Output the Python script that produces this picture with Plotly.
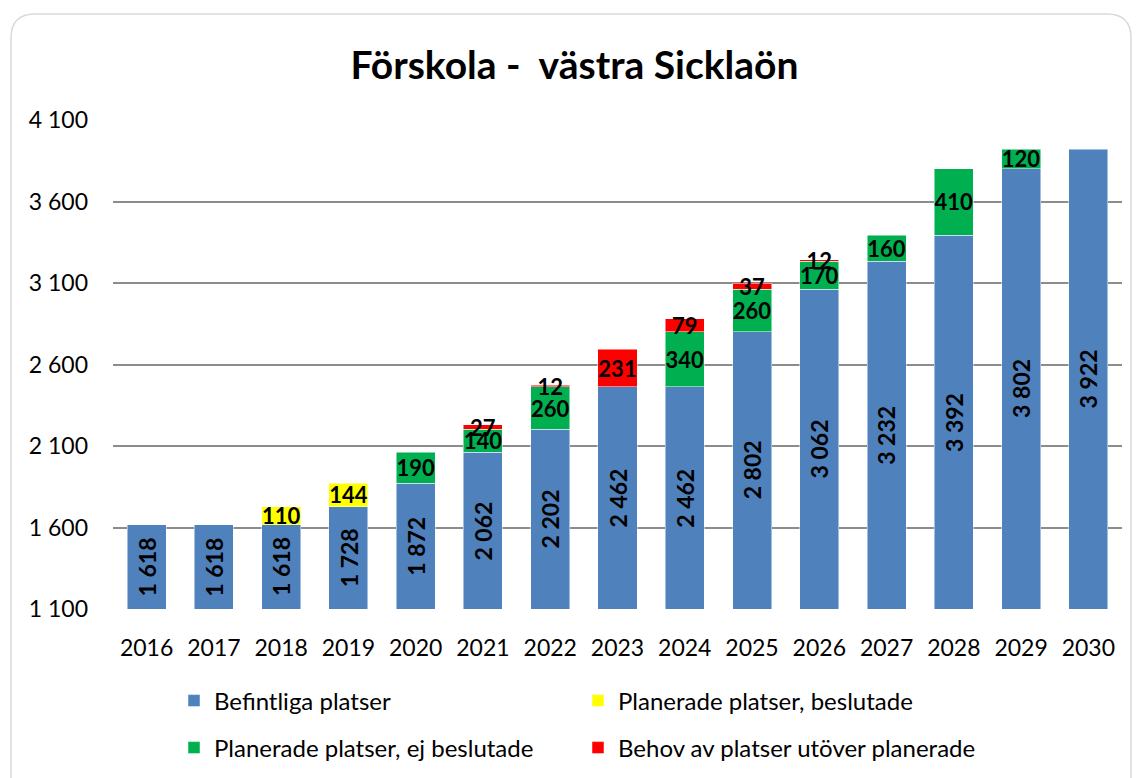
import plotly.graph_objects as go

years = [str(y) for y in range(2016, 2031)]
befintliga = [1618, 1618, 1618, 1728, 1872, 2062, 2202, 2462, 2462, 2802, 3062, 3232, 3392, 3802, 3922]
beslutade = [None, None, 110, 144, None, None, None, None, None, None, None, None, None, None, None]
ej_beslutade = [None, None, None, None, 190, 140, 260, None, 340, 260, 170, 160, 410, 120, None]
behov = [None, None, None, None, None, 27, 12, 231, 79, 37, 12, None, None, None, None]
y_ticks = [1100, 1600, 2100, 2600, 3100, 3600, 4100]
Y_MIN, Y_MAX = 1100, 4100

FONT = "Lato"

def fmt(v):
    return "" if v is None else f"{v:,}".replace(",", " ")

series = [
    ("Befintliga platser", befintliga, "#4F81BD", False, "legend"),
    ("Planerade platser, beslutade", beslutade, "#FFFF00", True, "legend"),
    ("Planerade platser, ej beslutade", ej_beslutade, "#00B050", True, "legend2"),
    ("Behov av platser utöver planerade", behov, "#FF0000", True, "legend2"),
]

fig = go.Figure()
for name, vals, col, show_text, leg in series:
    fig.add_trace(go.Bar(
        x=years, y=vals, name=name, legend=leg,
        marker=dict(color=col, line=dict(width=0.8, color="rgba(255,255,255,0.6)")),
        text=[fmt(v) for v in vals] if show_text else None,
        textposition="inside" if show_text else "none",
        insidetextanchor="middle", textangle=0, constraintext="none",
        textfont=dict(family=FONT, size=22, color="black", weight="bold"),
        hoverinfo="skip",
    ))

# vertical labels for the existing places, centred in each blue bar
# (category axis: annotation x given as category index)
for i, v in enumerate(befintliga):
    fig.add_annotation(x=i, y=(Y_MIN + v) / 2, xref="x", yref="y",
                       text=f"<b>{fmt(v)}</b>", textangle=-90,
                       showarrow=False, font=dict(family=FONT, size=23, color="black"))

OFF = 8  # page body margin
W, H = 1141 - OFF, 778 - OFF
L, R, T, B = 113 - OFF, 19, 120 - OFF, 169
pw, ph = W - L - R, H - T - B

def px(x):
    return (x - OFF - L) / pw

def py(y):
    return (H - B - (y - OFF)) / ph

def cy(y):
    return 1 - (y - OFF) / H

x0, x1, y0, y1, r = 11, 1131, 14, 800, 24
path = (f"M {px(x0)},{py(y1)} L {px(x0)},{py(y0 + r)} "
        f"Q {px(x0)},{py(y0)} {px(x0 + r)},{py(y0)} "
        f"L {px(x1 - r)},{py(y0)} Q {px(x1)},{py(y0)} {px(x1)},{py(y0 + r)} L {px(x1)},{py(y1)}")
fig.add_shape(type="path", path=path, xref="paper", yref="paper",
              line=dict(color="#D9D9D9", width=1.5), layer="below")

leg_common = dict(orientation="h", x=px(174), xanchor="left", yanchor="middle",
                  yref="container",
                  entrywidth=359, entrywidthmode="pixels", traceorder="normal",
                  font=dict(family=FONT, size=24, color="black"), itemwidth=30,
                  bgcolor="rgba(0,0,0,0)")

fig.update_layout(
    width=W, height=H,
    margin=dict(l=L, r=R, t=T, b=B),
    barmode="stack", bargap=0.42,
    paper_bgcolor="white", plot_bgcolor="white",
    separators=", ",
    font=dict(family=FONT, size=23, color="black"),
    uniformtext=dict(mode="show", minsize=22),
    title=dict(text="<b>Förskola -  västra Sicklaön</b>", x=0.5, xanchor="center",
               y=1 - (65 - OFF) / H, yanchor="middle",
               font=dict(family=FONT, size=39, color="black")),
    xaxis=dict(type="category", categoryorder="array", categoryarray=years,
               range=[-0.5, len(years) - 0.5],
               showgrid=False, showline=False, ticks="", tickfont=dict(size=23),
               ticklabelstandoff=23),
    yaxis=dict(range=[Y_MIN, Y_MAX], tickvals=y_ticks, tickformat=",d",
               showgrid=True, gridcolor="#8C8C8C", gridwidth=1.5,
               zeroline=False, showline=False, ticks="", tickfont=dict(size=23),
               ticklabelstandoff=24),
    legend=dict(y=cy(701), **leg_common),
    legend2=dict(y=cy(748), **leg_common),
    showlegend=True,
)
fig.write_html("out.html")
